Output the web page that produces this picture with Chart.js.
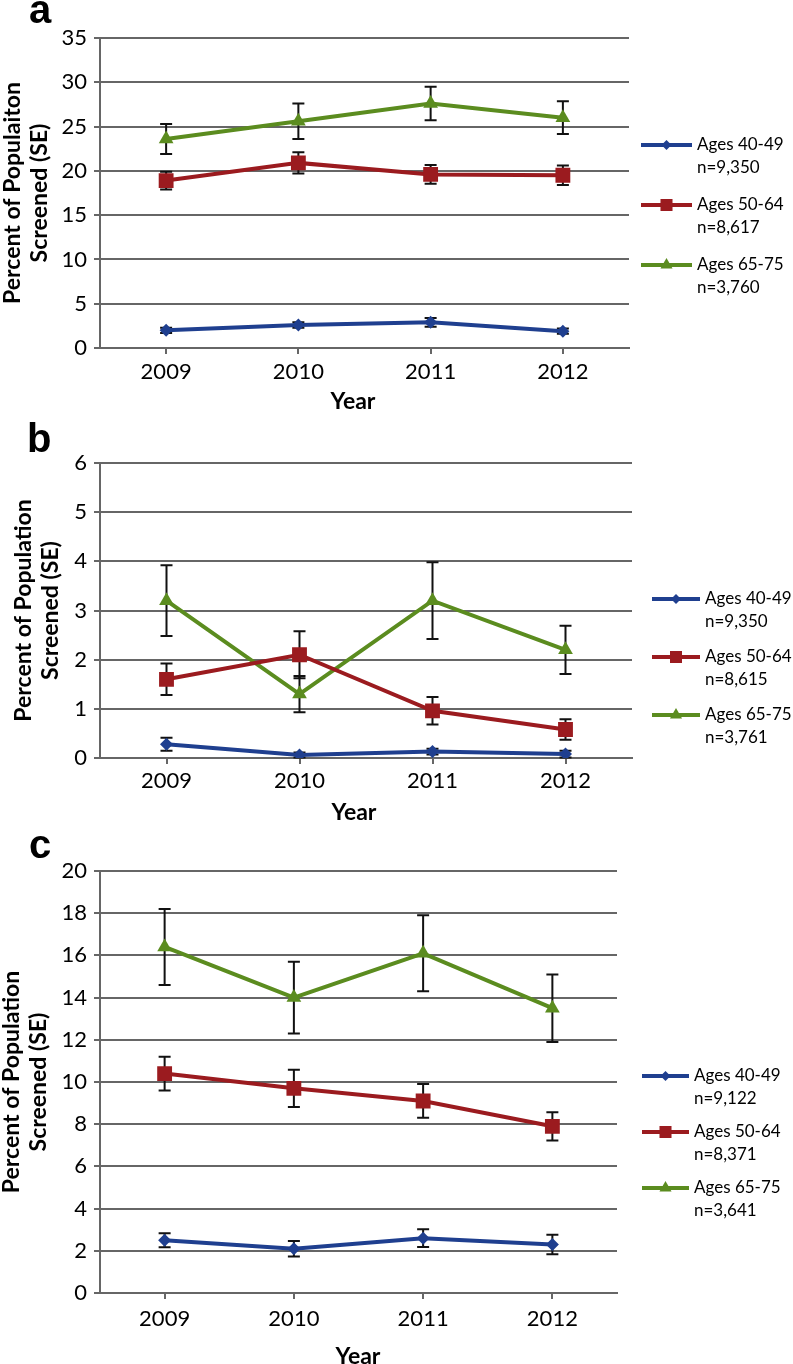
<!DOCTYPE html>
<html>
<head>
<meta charset="utf-8">
<script src="https://cdn.jsdelivr.net/npm/chart.js@4.4.1/dist/chart.umd.min.js"></script>
<style>
  html, body { margin: 0; padding: 0; background: #fff; }
  #wrap { position: relative; width: 793px; height: 1364px; }
  canvas { position: absolute; left: 0; display: block; }
</style>
</head>
<body>
<div id="wrap">
  <canvas id="chartA" width="793" height="415" style="top:0"></canvas>
  <canvas id="chartB" width="793" height="415" style="top:415px"></canvas>
  <canvas id="chartC" width="793" height="534" style="top:830px"></canvas>
</div>
<script>
// ── shared categories ──
const years  = ['2009', '2010', '2011', '2012'];
const groups = ['Ages 40-49', 'Ages 50-64', 'Ages 65-75'];

// ── panel a ──
const aN       = ['n=9,350', 'n=8,617', 'n=3,760'];
const a4049    = [2.0, 2.6, 2.9, 1.9];
const a4049se  = [0.3, 0.3, 0.5, 0.3];
const a5064    = [18.9, 20.9, 19.6, 19.5];
const a5064se  = [1.0, 1.2, 1.05, 1.1];
const a6575    = [23.6, 25.6, 27.6, 26.0];
const a6575se  = [1.7, 2.0, 1.9, 1.85];
const aMax = 35, aStep = 5;

// ── panel b ──
const bN       = ['n=9,350', 'n=8,615', 'n=3,761'];
const b4049    = [0.28, 0.06, 0.13, 0.08];
const b4049se  = [0.13, 0.05, 0.06, 0.07];
const b5064    = [1.6, 2.1, 0.96, 0.58];
const b5064se  = [0.32, 0.48, 0.28, 0.21];
const b6575    = [3.2, 1.3, 3.2, 2.2];
const b6575se  = [0.72, 0.37, 0.78, 0.49];
const bMax = 6, bStep = 1;

// ── panel c ──
const cN       = ['n=9,122', 'n=8,371', 'n=3,641'];
const c4049    = [2.5, 2.1, 2.6, 2.3];
const c4049se  = [0.33, 0.37, 0.42, 0.46];
const c5064    = [10.4, 9.7, 9.1, 7.9];
const c5064se  = [0.8, 0.88, 0.8, 0.67];
const c6575    = [16.4, 14.0, 16.1, 13.5];
const c6575se  = [1.8, 1.7, 1.8, 1.6];
const cMax = 20, cStep = 2;

const colors  = ['#1f3f8f', '#9b1b1f', '#5b8c1f'];
const styles  = ['rectRot', 'rect', 'triangle'];
const radii   = [6.5, 10.5, 8.5];
const legRad  = [5, 8.5, 7];
const grey    = '#666';
const family  = 'Lato, "Open Sans", sans-serif';

function drawMarker(ctx, style, r, x, y) {
  ctx.beginPath();
  if (style === 'rect') {
    const s = r * Math.SQRT1_2;
    ctx.rect(x - s, y - s, 2 * s, 2 * s);
  } else if (style === 'rectRot') {
    ctx.moveTo(x, y - r); ctx.lineTo(x + r, y); ctx.lineTo(x, y + r); ctx.lineTo(x - r, y);
  } else {
    const h = r * 0.866;
    ctx.moveTo(x, y - r); ctx.lineTo(x + h, y + r / 2); ctx.lineTo(x - h, y + r / 2);
  }
  ctx.closePath();
  ctx.fill();
}

// error bars go under the markers
const errorBars = {
  id: 'errorBars',
  beforeDatasetsDraw(chart) {
    const ctx = chart.ctx, ys = chart.scales.y;
    ctx.save();
    ctx.strokeStyle = '#111';
    ctx.lineWidth = 2;
    chart.data.datasets.forEach((ds, i) => {
      chart.getDatasetMeta(i).data.forEach((pt, j) => {
        const t = ys.getPixelForValue(ds.data[j] + ds.se[j]);
        const b = ys.getPixelForValue(ds.data[j] - ds.se[j]);
        ctx.beginPath();
        ctx.moveTo(pt.x, t); ctx.lineTo(pt.x, b);
        ctx.moveTo(pt.x - 6, t); ctx.lineTo(pt.x + 6, t);
        ctx.moveTo(pt.x - 6, b); ctx.lineTo(pt.x + 6, b);
        ctx.stroke();
      });
    });
    ctx.restore();
  }
};

// panel letter, x title and two-line legend
function decor(p) {
  return {
    id: 'decor',
    afterDraw(chart) {
      const ctx = chart.ctx;
      ctx.save();
      ctx.fillStyle = '#000';
      ctx.textBaseline = 'alphabetic';
      ctx.textAlign = 'left';
      ctx.font = 'bold 40px "Liberation Sans", Arial, sans-serif';
      ctx.fillText(p.letter, p.letterX, p.letterY);

      ctx.font = 'bold 23px ' + family;
      ctx.textAlign = 'center'; ctx.textBaseline = 'middle';
      ctx.fillText('Year', p.yearX, p.yearY);

      chart.data.datasets.forEach((ds, i) => {
        const y = p.legY[i];
        ctx.strokeStyle = ds.borderColor;
        ctx.lineWidth = 4;
        ctx.beginPath(); ctx.moveTo(p.legX0, y); ctx.lineTo(p.legX1, y); ctx.stroke();
        ctx.fillStyle = ds.borderColor;
        drawMarker(ctx, ds.pointStyle, legRad[i], (p.legX0 + p.legX1) / 2, y);
        ctx.fillStyle = '#000';
        ctx.font = '17px ' + family;
        ctx.textAlign = 'left'; ctx.textBaseline = 'middle';
        ctx.fillText(ds.label, p.legX1 + 5, y);
        ctx.fillText(p.n[i], p.legX1 + 5, y + 23);
      });
      ctx.restore();
    }
  };
}

function panel(id, series, ses, max, step, yTitle, p) {
  return new Chart(document.getElementById(id), {
    type: 'line',
    data: {
      labels: years,
      datasets: series.map((v, i) => ({
        label: groups[i], data: v, se: ses[i],
        borderColor: colors[i], backgroundColor: colors[i],
        pointBackgroundColor: colors[i], pointBorderColor: colors[i],
        borderWidth: 4, pointStyle: styles[i], pointRadius: radii[i],
        pointBorderWidth: 0, tension: 0
      }))
    },
    options: {
      responsive: false, animation: false,
      layout: { padding: { left: 0, top: p.top, right: 793 - p.right, bottom: 0 } },
      plugins: { legend: { display: false }, tooltip: { enabled: false } },
      scales: {
        x: {
          offset: true,
          grid: { display: true, drawOnChartArea: false, color: grey, lineWidth: 2, tickLength: 6 },
          border: { color: grey, width: 2 },
          ticks: { color: '#000', font: { family, size: 22 }, padding: p.xPad },
          afterFit(s) { s.height = p.h - p.bottom; }
        },
        y: {
          min: 0, max,
          ticks: { stepSize: step, color: '#000', font: { family, size: 22 }, padding: 7 },
          grid: { color: grey, lineWidth: 2, tickLength: 6 },
          border: { color: grey, width: 2 },
          title: {
            display: true, text: yTitle, color: '#000',
            font: { family, size: 23, weight: 'bold', lineHeight: 1.2 },
            padding: { top: p.titlePad, bottom: 0 }
          },
          afterFit(s) { s.width = p.left; }
        }
      }
    },
    plugins: [errorBars, decor(p)]
  });
}

panel('chartA',
  [a4049, a5064, a6575], [a4049se, a5064se, a6575se], aMax, aStep,
  ['Percent of Populaiton', 'Screened (SE)'],
  { h: 415, top: 38, bottom: 348, left: 100, right: 629, xPad: 5, titlePad: -1.5,
    letter: 'a', letterX: 29, letterY: 23, yearX: 353, yearY: 402,
    legX0: 641, legX1: 692, legY: [145, 205, 265], n: aN });

panel('chartB',
  [b4049, b5064, b6575], [b4049se, b5064se, b6575se], bMax, bStep,
  ['Percent of Population', 'Screened (SE)'],
  { h: 415, top: 48, bottom: 343, left: 100, right: 632, xPad: 4, titlePad: 9.5,
    letter: 'b', letterX: 27, letterY: 37, yearX: 354, yearY: 398,
    legX0: 652, legX1: 700, legY: [184, 242, 300], n: bN });

panel('chartC',
  [c4049, c5064, c6575], [c4049se, c5064se, c6575se], cMax, cStep,
  ['Percent of Population', 'Screened (SE)'],
  { h: 534, top: 41, bottom: 463, left: 100, right: 617, xPad: 7, titlePad: -2.5,
    letter: 'c', letterX: 29, letterY: 28, yearX: 358, yearY: 527,
    legX0: 642, legX1: 689, legY: [246, 302, 358], n: cN });
</script>
</body>
</html>
